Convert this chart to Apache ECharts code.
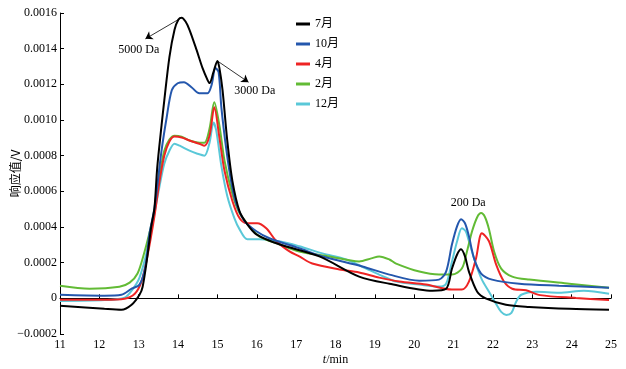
<!DOCTYPE html>
<html>
<head>
<meta charset="utf-8">
<script src="https://cdn.jsdelivr.net/npm/echarts@6/dist/echarts.min.js"></script>
<style>html,body{margin:0;padding:0;background:#fff;}#c{width:626px;height:369px;}</style>
</head>
<body>
<div id="c"></div>
<script>
var seriesNames = ['7月', '10月', '4月', '2月', '12月'];
var seriesColors = ['#000000', '#2457ad', '#ee2424', '#62bb35', '#5ac8d8'];
var xTicks = [11, 25, 1];
var yTicks = [-0.0002, 0.0016, 0.0002];

var jul = [[11.0,-0.000042],[12.13,-0.000059],[12.56,-0.000064],[12.82,-0.000036],[13.02,0.00002],[13.10,0.000065],[13.22,0.000235],[13.32,0.000405],[13.40,0.000506],[13.47,0.000732],[13.58,0.00097],[13.65,0.00111],[13.78,0.001353],[13.91,0.001506],[14.01,0.001563],[14.09,0.001574],[14.19,0.001552],[14.29,0.001506],[14.47,0.001393],[14.62,0.001292],[14.75,0.001224],[14.80,0.001207],[14.90,0.001269],[15.00,0.001331],[15.05,0.001292],[15.13,0.001167],[15.25,0.000885],[15.38,0.000659],[15.56,0.000489],[15.74,0.000421],[15.99,0.000359],[16.57,0.000303],[17.59,0.000235],[18.60,0.000122],[19.37,0.000082],[20.46,0.000043],[20.81,0.000054],[20.96,0.000167],[21.09,0.000246],[21.19,0.000275],[21.29,0.000235],[21.39,0.00015],[21.60,0.000037],[21.83,-0.000002],[22.33,-0.000036],[22.92,-0.000048],[23.94,-0.000059],[24.95,-0.000064]];
var oct = [[11.0,0.00002],[12.13,0.000015],[12.56,0.00002],[12.82,0.000054],[13.02,0.000077],[13.17,0.000178],[13.27,0.000359],[13.40,0.000506],[13.58,0.000828],[13.71,0.001014],[13.84,0.001167],[13.99,0.001206],[14.15,0.001212],[14.34,0.001184],[14.54,0.00115],[14.75,0.00115],[14.85,0.001195],[14.95,0.001291],[15.03,0.001269],[15.10,0.001071],[15.23,0.000828],[15.36,0.000641],[15.48,0.000529],[15.69,0.000433],[15.99,0.000376],[16.32,0.000337],[17.08,0.000281],[17.67,0.000235],[18.68,0.000179],[19.37,0.000133],[20.13,0.000099],[20.63,0.000105],[20.81,0.00015],[20.96,0.000303],[21.09,0.000405],[21.19,0.000444],[21.29,0.000421],[21.39,0.000348],[21.52,0.000224],[21.70,0.000139],[21.98,0.000105],[22.67,0.000082],[23.68,0.000071],[24.95,0.00006]];
var apr = [[11.0,-0.000008],[12.13,-0.000008],[12.64,-0.000002],[12.9,0.000026],[13.07,0.000094],[13.22,0.000235],[13.40,0.000461],[13.53,0.000659],[13.65,0.0008],[13.78,0.000879],[13.91,0.000907],[14.09,0.000902],[14.29,0.000885],[14.54,0.000867],[14.67,0.000856],[14.80,0.000913],[14.92,0.001071],[15.05,0.000902],[15.18,0.000715],[15.38,0.000546],[15.56,0.00045],[15.74,0.000421],[16.01,0.000421],[16.24,0.000393],[16.50,0.00032],[16.83,0.000263],[17.08,0.000235],[17.41,0.000195],[18.10,0.000162],[18.60,0.000145],[19.11,0.000116],[19.62,0.000094],[20.30,0.000077],[20.96,0.000049],[21.21,0.000049],[21.39,0.000094],[21.57,0.000224],[21.72,0.000365],[21.90,0.00032],[22.08,0.00019],[22.28,0.000094],[22.49,0.000054],[22.84,0.000045],[23.2,0.000018],[24.11,0.000002],[24.95,-0.00001]];
var feb = [[11.0,0.000071],[11.75,0.000054],[12.51,0.000065],[12.77,0.000088],[12.97,0.000139],[13.15,0.000263],[13.27,0.000365],[13.40,0.000489],[13.53,0.000687],[13.65,0.000828],[13.78,0.00089],[13.91,0.000912],[14.09,0.000907],[14.29,0.000885],[14.54,0.000873],[14.67,0.000873],[14.80,0.000952],[14.92,0.0011],[15.05,0.000969],[15.18,0.000772],[15.38,0.000585],[15.56,0.000478],[15.81,0.000405],[16.06,0.000348],[16.57,0.000303],[17.08,0.000263],[17.84,0.000235],[18.60,0.000207],[18.91,0.000224],[19.11,0.000235],[19.37,0.000218],[19.54,0.000195],[20.13,0.00015],[20.63,0.000133],[20.96,0.000133],[21.21,0.000167],[21.34,0.000263],[21.47,0.000376],[21.60,0.000455],[21.70,0.000478],[21.80,0.000455],[21.90,0.000388],[22.03,0.000263],[22.21,0.000167],[22.49,0.000122],[22.92,0.000105],[23.94,0.000082],[24.95,0.00006]];
var dec = [[11.0,-0.000015],[12.13,-0.00001],[12.64,0.000003],[12.84,0.000049],[13.02,0.000116],[13.22,0.000275],[13.40,0.000478],[13.53,0.00063],[13.65,0.000755],[13.78,0.000828],[13.91,0.000867],[14.04,0.000856],[14.29,0.000828],[14.49,0.000811],[14.67,0.0008],[14.80,0.000873],[14.90,0.000986],[14.97,0.000941],[15.10,0.000743],[15.25,0.000574],[15.43,0.00045],[15.56,0.000388],[15.76,0.000331],[16.06,0.000331],[16.57,0.00032],[17.08,0.000292],[17.67,0.000252],[18.27,0.000218],[18.78,0.000167],[19.11,0.000133],[19.54,0.000094],[20.13,0.000077],[20.63,0.000066],[20.81,0.000082],[20.96,0.000207],[21.09,0.00032],[21.21,0.000393],[21.31,0.000376],[21.39,0.00032],[21.57,0.00019],[21.72,0.000105],[21.90,0.000037],[22.08,-0.000031],[22.21,-0.000076],[22.34,-0.000093],[22.47,-0.000082],[22.59,-0.000019],[22.72,0.00002],[23.10,0.000037],[23.68,0.000032],[24.31,0.000043],[24.95,0.000026]];

var seriesData = [jul, oct, apr, feb, dec];
var annotations = [
  {text: '5000 Da', at: [13.0, 0.001393], from: [14.09, 0.001574], to: [13.17, 0.001455]},
  {text: '3000 Da', at: [15.95, 0.001161], from: [15.0, 0.001331], to: [15.79, 0.001212]},
  {text: '200 Da', at: [21.37, 0.000534]}
];

var serif = "'Liberation Serif','Times New Roman',serif";
var chart = echarts.init(document.getElementById('c'), null, {renderer: 'canvas'});

function fmtY(v) {
  var r = Math.round(v * 10000) / 10000;
  if (Math.abs(r) < 1e-9) return '0';
  var s = Math.abs(r).toFixed(4);
  return (r < 0 ? '\u22120' : '0') + s.substring(1);
}

var series = seriesNames.map(function (n, i) {
  return {
    name: n, type: 'line', data: seriesData[i], showSymbol: false, smooth: 0.3,
    lineStyle: {width: 2, color: seriesColors[i]}, itemStyle: {color: seriesColors[i]},
    z: 10 - i, animation: false
  };
});

series[0].markLine = {
  silent: true, animation: false, symbol: ['none', 'arrow'], symbolSize: 7,
  lineStyle: {color: '#000', width: 0.8, type: 'solid'}, label: {show: false},
  data: annotations.filter(function (a) { return a.from; }).map(function (a) {
    return [{coord: a.from}, {coord: a.to}];
  })
};
series[0].markPoint = {
  silent: true, animation: false, symbol: 'circle', symbolSize: 1,
  itemStyle: {color: 'rgba(0,0,0,0)'},
  label: {show: true, position: 'inside', color: '#000', fontFamily: serif, fontSize: 12,
    formatter: function (p) { return p.name; }},
  data: annotations.map(function (a) { return {name: a.text, coord: a.at}; })
};

chart.setOption({
  animation: false,
  backgroundColor: '#fff',
  grid: {left: 60, right: 15, top: 13, bottom: 35, containLabel: false, outerBoundsMode: 'none'},
  legend: {
    orient: 'vertical', left: 291, top: 13, icon: 'rect', itemWidth: 14, itemHeight: 3,
    itemGap: 8,
    textStyle: {fontFamily: serif + ",'Noto Sans CJK SC'", fontSize: 12, color: '#000'},
    data: seriesNames
  },
  xAxis: {
    type: 'value', min: xTicks[0], max: xTicks[1], interval: xTicks[2],
    name: '{i|t}/min', nameLocation: 'middle', nameGap: 20, nameMoveOverlap: false,
    nameTextStyle: {fontFamily: serif, fontSize: 12, color: '#000',
      rich: {i: {fontStyle: 'italic', fontFamily: serif, fontSize: 12, color: '#000'}}},
    axisLine: {lineStyle: {color: '#000', width: 1}},
    axisTick: {inside: true, length: 4, lineStyle: {color: '#000'}},
    axisLabel: {fontFamily: serif, fontSize: 12, color: '#000', margin: 5},
    splitLine: {show: false}
  },
  yAxis: {
    type: 'value', min: yTicks[0], max: yTicks[1], interval: yTicks[2],
    name: '响应值/V', nameLocation: 'middle', nameGap: 39, nameRotate: 90, nameMoveOverlap: false,
    nameTextStyle: {fontFamily: "'Noto Sans CJK SC',sans-serif", fontSize: 12, color: '#000'},
    axisLine: {show: true, lineStyle: {color: '#000', width: 1}},
    axisTick: {show: true, inside: true, length: 4, lineStyle: {color: '#000'}},
    axisLabel: {fontFamily: serif, fontSize: 12, color: '#000', margin: 3, formatter: fmtY},
    splitLine: {show: false}
  },
  series: series
});
</script>
</body>
</html>
